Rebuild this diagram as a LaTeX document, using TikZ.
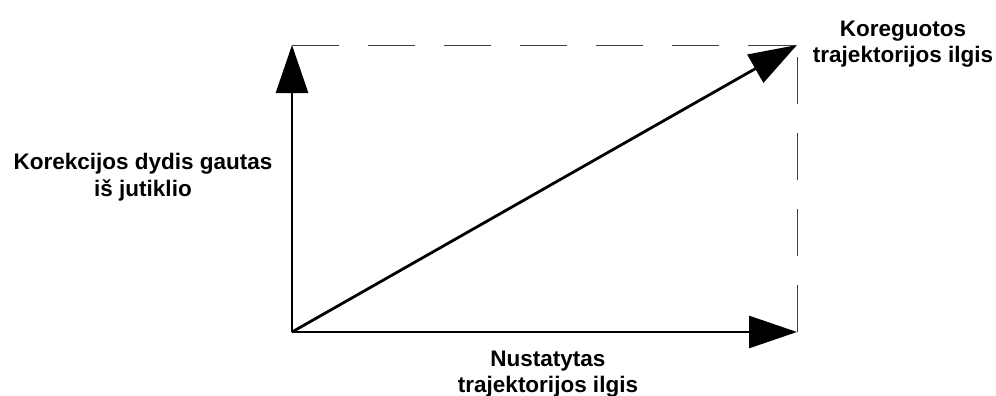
\documentclass[tikz,border=0pt]{standalone}
\usepackage{fontspec}
\setmainfont{Liberation Sans}
\usetikzlibrary{arrows.meta}
\begin{document}
\begin{tikzpicture}[x=1pt,y=-1pt,
  vec/.style={line width=2.8pt,-{Triangle[length=48pt,width=32pt]}},
  guide/.style={line width=0.9pt,draw=black!75,dash pattern=on 47pt off 29pt},
  lbl/.style={font=\bfseries\fontsize{22.5}{26.5}\selectfont,align=center,text=black}]
  \useasboundingbox (0,0) rectangle (996,396);
  \coordinate (O) at (292,332);
  \coordinate (Y) at (292,45);
  \coordinate (X) at (797,332);
  \coordinate (R) at (797,45);
  % dashed completion of the rectangle
  \draw[guide] (Y) -- (R);
  \draw[guide] (X) -- (R);
  % the three vectors
  \draw[vec] (O) -- (Y);
  \draw[vec] (O) -- (X);
  \draw[vec] (O) -- (R);
  % labels
  \node[lbl] (lr) at (903,44) {Koreguotos\\trajektorijos ilgis};
  \node[lbl] (ly) at (143,177) {Korekcijos dydis gautas\\iš jutiklio};
  \node[lbl] (lx) at (548,374) {Nustatytas\\trajektorijos ilgis};
\end{tikzpicture}
\end{document}
